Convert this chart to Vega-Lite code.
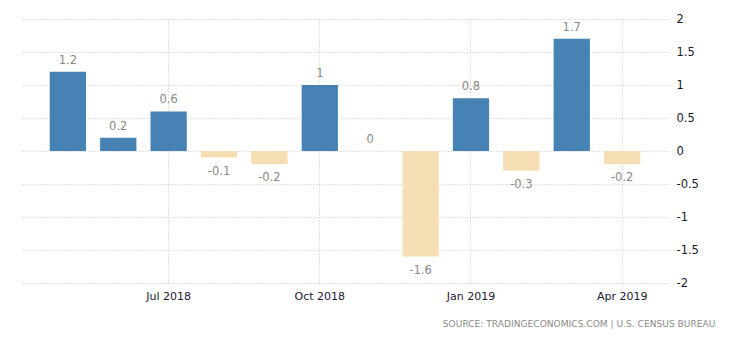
{
  "$schema": "https://vega.github.io/schema/vega-lite/v6.json",
  "width": 646,
  "height": 264,
  "autosize": "none",
  "padding": {"left": 22, "top": 19, "right": 62, "bottom": 57},
  "background": "#ffffff",
  "title": {
    "text": "SOURCE: TRADINGECONOMICS.COM  |  U.S. CENSUS BUREAU",
    "orient": "bottom",
    "anchor": "end",
    "font": "DejaVu Sans",
    "fontSize": 9.1,
    "fontWeight": "normal",
    "color": "#8a8a8a",
    "offset": 19,
    "dx": 17
  },
  "data": {
    "values": [
      {"month": "May 2018", "value": 1.2},
      {"month": "Jun 2018", "value": 0.2},
      {"month": "Jul 2018", "value": 0.6},
      {"month": "Aug 2018", "value": -0.1},
      {"month": "Sep 2018", "value": -0.2},
      {"month": "Oct 2018", "value": 1},
      {"month": "Nov 2018", "value": 0},
      {"month": "Dec 2018", "value": -1.6},
      {"month": "Jan 2019", "value": 0.8},
      {"month": "Feb 2019", "value": -0.3},
      {"month": "Mar 2019", "value": 1.7},
      {"month": "Apr 2019", "value": -0.2}
    ]
  },
  "encoding": {
    "x": {
      "field": "month",
      "type": "ordinal",
      "sort": null,
      "scale": {"paddingInner": 0.28, "paddingOuter": 0.55},
      "axis": {
        "title": null,
        "values": ["Jul 2018", "Oct 2018", "Jan 2019", "Apr 2019"],
        "labelAngle": 0,
        "labelFont": "DejaVu Sans",
        "labelFontSize": 11,
        "labelColor": "#1a1a2e",
        "labelPadding": 4,
        "domain": false,
        "ticks": true,
        "tickSize": 3,
        "tickColor": "#c4c4c4",
        "tickDash": [1, 2],
        "grid": true,
        "gridColor": "#c4c4c4",
        "gridDash": [1, 2],
        "gridWidth": 1
      }
    },
    "y": {
      "field": "value",
      "type": "quantitative",
      "scale": {"domain": [-2, 2], "nice": false},
      "axis": {
        "orient": "right",
        "title": null,
        "values": [-2, -1.5, -1, -0.5, 0, 0.5, 1, 1.5, 2],
        "labelExpr": "datum.value + ''",
        "labelFont": "DejaVu Sans",
        "labelFontSize": 11.5,
        "labelColor": "#1a1a2e",
        "labelPadding": 8,
        "domain": false,
        "ticks": false,
        "grid": true,
        "gridColor": "#c4c4c4",
        "gridDash": [1, 2],
        "gridWidth": 1
      }
    }
  },
  "layer": [
    {
      "mark": {"type": "bar"},
      "encoding": {
        "color": {
          "condition": {"test": "datum.value < 0", "value": "#F5DEB3"},
          "value": "#4682B4"
        }
      }
    },
    {
      "transform": [{"filter": "datum.value >= 0"}],
      "mark": {"type": "text", "baseline": "bottom", "dy": -6, "font": "DejaVu Sans", "fontSize": 11.5, "color": "#888888"},
      "encoding": {"text": {"field": "value", "type": "nominal"}}
    },
    {
      "transform": [{"filter": "datum.value < 0"}],
      "mark": {"type": "text", "baseline": "top", "dy": 8, "font": "DejaVu Sans", "fontSize": 11.5, "color": "#888888"},
      "encoding": {"text": {"field": "value", "type": "nominal"}}
    }
  ],
  "config": {"view": {"stroke": null}}
}
